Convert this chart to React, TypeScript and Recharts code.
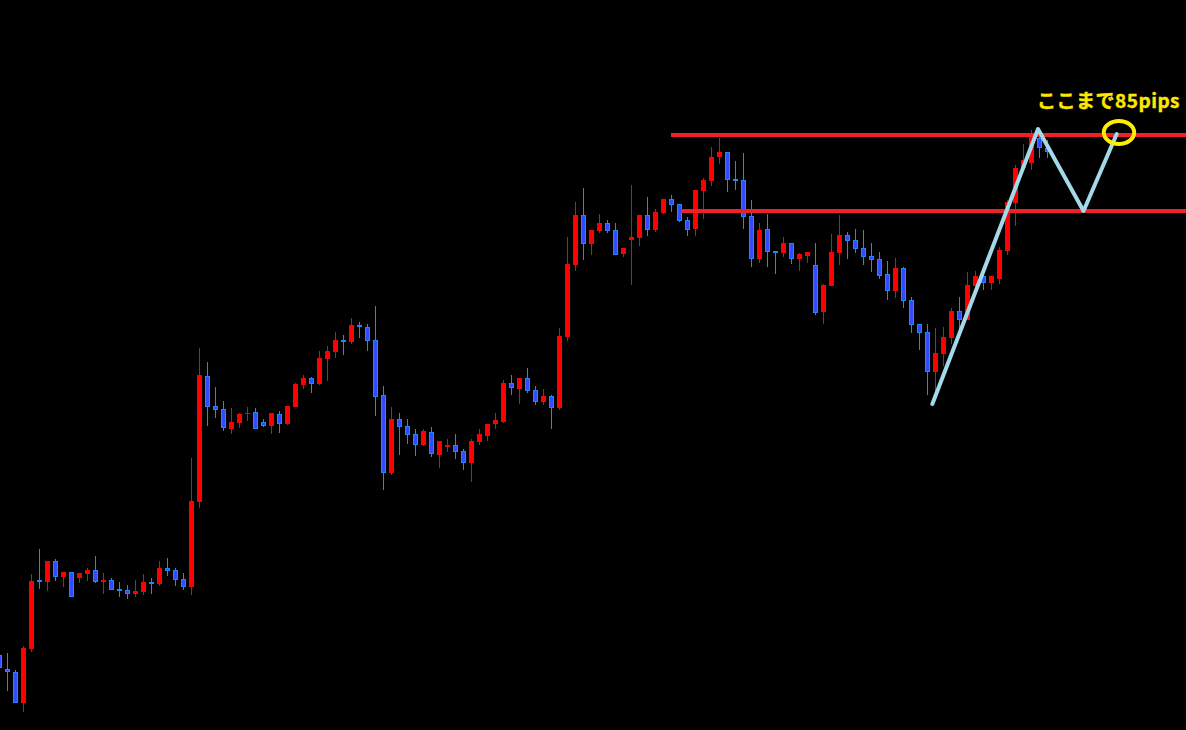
import React from 'react';
import { ComposedChart, Bar, Line, XAxis, YAxis, ReferenceLine, ReferenceDot } from 'recharts';

// OHLC prices (candle index 0..131)
const OPEN = [
  110.75, 110.61, 110.58, 110.27, 110.81, 111.50, 111.48, 111.69, 111.53, 111.58,
  111.52, 111.56, 111.60, 111.48, 111.50, 111.41, 111.40, 111.36, 111.38, 111.48,
  111.46, 111.62, 111.60, 111.51, 111.43, 112.28, 113.54, 113.24, 113.21, 113.01,
  113.07, 113.16, 113.18, 113.08, 113.04, 113.16, 113.06, 113.23, 113.45, 113.52,
  113.46, 113.71, 113.78, 113.90, 113.88, 114.05, 114.03, 113.90, 113.35, 112.57,
  113.11, 113.04, 112.96, 112.85, 112.98, 112.75, 112.83, 112.85, 112.79, 112.67,
  112.88, 112.94, 113.06, 113.08, 113.47, 113.41, 113.52, 113.40, 113.28, 113.34,
  113.22, 113.93, 114.65, 115.15, 114.86, 114.99, 115.07, 115.00, 114.76, 114.90,
  114.92, 115.15, 115.00, 115.17, 115.31, 115.26, 115.10, 115.01, 115.39, 115.49,
  115.73, 115.78, 115.51, 115.50, 115.14, 114.71, 115.01, 114.79, 114.77, 114.87,
  114.71, 114.74, 114.65, 114.18, 114.44, 114.77, 114.95, 114.90, 114.82, 114.74,
  114.71, 114.56, 114.39, 114.62, 114.30, 114.06, 113.98, 113.58, 113.76, 113.92,
  114.19, 114.10, 114.44, 114.54, 114.47, 114.51, 114.79, 115.27, 115.62, 115.67,
  115.92, 115.82,
];
const HIGH = [
  110.77, 110.77, 110.60, 110.84, 111.56, 111.81, 111.69, 111.71, 111.58, 111.58,
  111.57, 111.62, 111.74, 111.57, 111.52, 111.48, 111.45, 111.50, 111.56, 111.52,
  111.69, 111.72, 111.62, 111.57, 112.72, 113.82, 113.68, 113.43, 113.29, 113.22,
  113.17, 113.23, 113.22, 113.11, 113.17, 113.19, 113.24, 113.47, 113.55, 113.53,
  113.79, 113.84, 113.98, 113.95, 114.12, 114.08, 114.06, 114.24, 113.44, 113.23,
  113.17, 113.11, 113.01, 113.01, 113.03, 112.89, 112.91, 112.96, 112.81, 112.91,
  113.01, 113.06, 113.17, 113.50, 113.55, 113.52, 113.62, 113.44, 113.41, 113.35,
  114.02, 114.93, 115.28, 115.42, 115.00, 115.16, 115.10, 115.07, 114.82, 115.45,
  115.15, 115.33, 115.21, 115.31, 115.35, 115.26, 115.13, 115.40, 115.52, 115.83,
  115.92, 115.78, 115.69, 115.77, 115.30, 115.07, 115.16, 114.79, 114.93, 114.87,
  114.77, 114.78, 114.87, 114.46, 114.96, 115.15, 114.98, 115.01, 115.00, 114.87,
  114.78, 114.69, 114.72, 114.63, 114.33, 114.06, 114.06, 114.02, 114.03, 114.22,
  114.33, 114.58, 114.59, 114.56, 114.54, 114.83, 115.30, 115.65, 115.86, 116.00,
  116.02, 115.90,
];
const LOW = [
  110.60, 110.39, 110.27, 110.18, 110.78, 111.41, 111.39, 111.49, 111.43, 111.33,
  111.47, 111.49, 111.47, 111.36, 111.40, 111.33, 111.31, 111.33, 111.35, 111.36,
  111.44, 111.54, 111.44, 111.40, 111.35, 112.22, 113.04, 113.12, 112.99, 112.96,
  113.02, 113.09, 113.01, 113.03, 112.96, 112.97, 113.05, 113.23, 113.41, 113.37,
  113.45, 113.49, 113.72, 113.75, 113.86, 113.92, 113.79, 113.14, 112.40, 112.55,
  112.75, 112.86, 112.74, 112.84, 112.73, 112.62, 112.78, 112.71, 112.60, 112.48,
  112.85, 112.89, 113.01, 113.07, 113.35, 113.26, 113.37, 113.25, 113.25, 113.01,
  113.20, 113.89, 114.59, 114.70, 114.75, 114.97, 114.97, 114.75, 114.73, 114.45,
  114.84, 114.94, 114.98, 115.16, 115.18, 115.08, 114.94, 114.94, 115.11, 115.44,
  115.66, 115.38, 115.40, 115.01, 114.63, 114.67, 114.63, 114.56, 114.73, 114.66,
  114.59, 114.67, 114.15, 114.06, 114.44, 114.65, 114.71, 114.77, 114.65, 114.58,
  114.51, 114.30, 114.32, 114.22, 113.97, 113.80, 113.35, 113.38, 113.64, 113.86,
  114.01, 114.10, 114.42, 114.40, 114.40, 114.46, 114.75, 115.04, 115.60, 115.60,
  115.72, 115.72,
];
const CLOSE = [
  110.62, 110.58, 110.27, 110.82, 111.49, 111.48, 111.69, 111.53, 111.58, 111.33,
  111.57, 111.60, 111.48, 111.50, 111.40, 111.39, 111.36, 111.39, 111.48, 111.46,
  111.62, 111.59, 111.50, 111.43, 112.29, 113.55, 113.23, 113.20, 113.02, 113.08,
  113.16, 113.17, 113.01, 113.04, 113.17, 113.06, 113.24, 113.46, 113.52, 113.46,
  113.72, 113.79, 113.90, 113.88, 114.05, 114.03, 113.89, 113.33, 112.57, 113.11,
  113.03, 112.95, 112.85, 112.99, 112.76, 112.89, 112.85, 112.78, 112.67, 112.89,
  112.96, 113.06, 113.10, 113.47, 113.42, 113.52, 113.39, 113.28, 113.34, 113.22,
  113.94, 114.66, 115.15, 114.86, 115.00, 115.07, 114.99, 114.75, 114.82, 114.93,
  115.15, 115.00, 115.18, 115.31, 115.25, 115.09, 115.00, 115.40, 115.50, 115.73,
  115.78, 115.50, 115.49, 115.13, 114.71, 115.00, 114.78, 114.77, 114.87, 114.71,
  114.76, 114.78, 114.17, 114.45, 114.78, 114.95, 114.89, 114.81, 114.73, 114.70,
  114.54, 114.39, 114.62, 114.29, 114.05, 113.97, 113.58, 113.77, 113.93, 114.19,
  114.10, 114.45, 114.54, 114.47, 114.54, 114.80, 115.28, 115.62, 115.70, 115.95,
  115.82, 115.78,
];

// Number of time slots on the chart (includes empty slots on the right)
const SLOTS = 149;

// Horizontal resistance / support levels
const LEVEL_TOP = 115.95;
const LEVEL_TOP_START = 84.06;
const LEVEL_MID = 115.19;
const LEVEL_MID_START = 85.31;

// N-pattern drawing (time index, price)
const N_T = [116.73, 129.94, 135.63, 139.78];
const N_P = [113.26, 116.01, 115.19, 115.96];

// Target annotation
const TARGET_T = 140.06;
const TARGET_P = 115.975;
const LABEL_T = 129.81;
const LABEL_P = 116.22;
const LABEL_TEXT = 'ここまで85pips';

const Y_MIN = 110.0;
const Y_MAX = 117.3;

const candleData = Array.from({ length: SLOTS }, (_, i) =>
  i < OPEN.length
    ? { i, o: OPEN[i], h: HIGH[i], l: LOW[i], c: CLOSE[i], range: [LOW[i], HIGH[i]] }
    : { i, range: null }
);
const nData = N_T.map((t, k) => ({ t, p: N_P[k] }));

const RED = '#ff0000';
const BLUE_FILL = '#2f4cff';
const BLUE_EDGE = '#1e88ff';

const Candle = (props: any) => {
  const { x, y, width, height, payload } = props;
  if (!payload || payload.o == null || x == null || y == null) return <g />;
  const { o, h, l, c } = payload;
  const top = Math.min(y, y + height);
  const full = Math.abs(height);
  const span = h - l;
  const ratio = span > 0 ? full / span : 0;
  const bTop = Math.round(top + (h - Math.max(o, c)) * ratio);
  let bBot = Math.round(top + (h - Math.min(o, c)) * ratio);
  if (bBot - bTop < 1) bBot = bTop + 1;
  const up = c > o;
  const wTop = Math.round(top);
  const wBot = Math.round(top + full);
  const cx = Math.floor(x + width / 2);
  const bx = Math.round(x);
  const bw = Math.round(width);
  if (up) {
    return (
      <g>
        <rect x={cx} y={wTop} width={1} height={Math.max(wBot - wTop, 1)} fill={RED} />
        <rect x={bx} y={bTop} width={bw} height={bBot - bTop} fill={RED} />
      </g>
    );
  }
  const bh = bBot - bTop;
  return (
    <g>
      <rect x={cx} y={wTop} width={1} height={Math.max(wBot - wTop, 1)} fill={BLUE_EDGE} />
      {bh >= 3 ? (
        <rect x={bx + 0.5} y={bTop + 0.5} width={bw - 1} height={bh - 1} fill={BLUE_FILL} stroke={BLUE_EDGE} strokeWidth={1} />
      ) : (
        <rect x={bx} y={bTop} width={bw} height={Math.max(bh, 2)} fill={BLUE_EDGE} />
      )}
    </g>
  );
};

const TargetEllipse = (props: any) => {
  const { cx, cy } = props;
  if (cx == null || cy == null) return <g />;
  return <ellipse cx={cx} cy={cy} rx={15.2} ry={11.5} fill="none" stroke="#ffee00" strokeWidth={4} />;
};

const TargetLabel = (props: any) => {
  const { cx, cy } = props;
  if (cx == null || cy == null) return <g />;
  return (
    <text
      x={cx}
      y={cy}
      textAnchor="start"
      fill="#ffe800"
      stroke="#ffe800"
      strokeWidth={0.4}
      fontWeight="bold"
      fontSize={19}
      letterSpacing={0.5}
      fontFamily="'Noto Sans CJK JP', 'Noto Sans', sans-serif"
    >
      {LABEL_TEXT}
    </text>
  );
};

export default function App() {
  return (
    <div style={{ position: 'fixed', left: 0, top: 0, width: 1186, height: 730, background: '#000', overflow: 'hidden' }}>
      <div style={{ position: 'absolute', left: -6, top: 0 }}>
        <ComposedChart
          width={1193}
          height={730}
          data={candleData}
          margin={{ top: 0, right: 0.5, bottom: 0, left: 0.5 }}
        >
          <XAxis xAxisId="c" dataKey="i" type="category" hide />
          <XAxis xAxisId="n" dataKey="t" type="number" domain={[-0.5, SLOTS - 0.5]} allowDataOverflow hide />
          <YAxis type="number" domain={[Y_MIN, Y_MAX]} allowDataOverflow hide />
          <Bar xAxisId="c" dataKey="range" barSize={5} shape={(p: any) => <Candle {...p} />} isAnimationActive={false} />
          <ReferenceLine
            xAxisId="n"
            segment={[{ x: LEVEL_TOP_START, y: LEVEL_TOP }, { x: SLOTS - 0.5, y: LEVEL_TOP }]}
            stroke="#ee2028"
            strokeWidth={4}
            ifOverflow="visible"
          />
          <ReferenceLine
            xAxisId="n"
            segment={[{ x: LEVEL_MID_START, y: LEVEL_MID }, { x: SLOTS - 0.5, y: LEVEL_MID }]}
            stroke="#ee2028"
            strokeWidth={4}
            ifOverflow="visible"
          />
          <Line
            xAxisId="n"
            data={nData}
            dataKey="p"
            type="linear"
            stroke="#a3d9e9"
            strokeWidth={4}
            strokeLinecap="round"
            strokeLinejoin="round"
            dot={false}
            activeDot={false}
            isAnimationActive={false}
          />
          <ReferenceDot xAxisId="n" x={TARGET_T} y={TARGET_P} shape={(p: any) => <TargetEllipse {...p} />} ifOverflow="visible" />
          <ReferenceDot xAxisId="n" x={LABEL_T} y={LABEL_P} shape={(p: any) => <TargetLabel {...p} />} ifOverflow="visible" />
        </ComposedChart>
      </div>
    </div>
  );
}
